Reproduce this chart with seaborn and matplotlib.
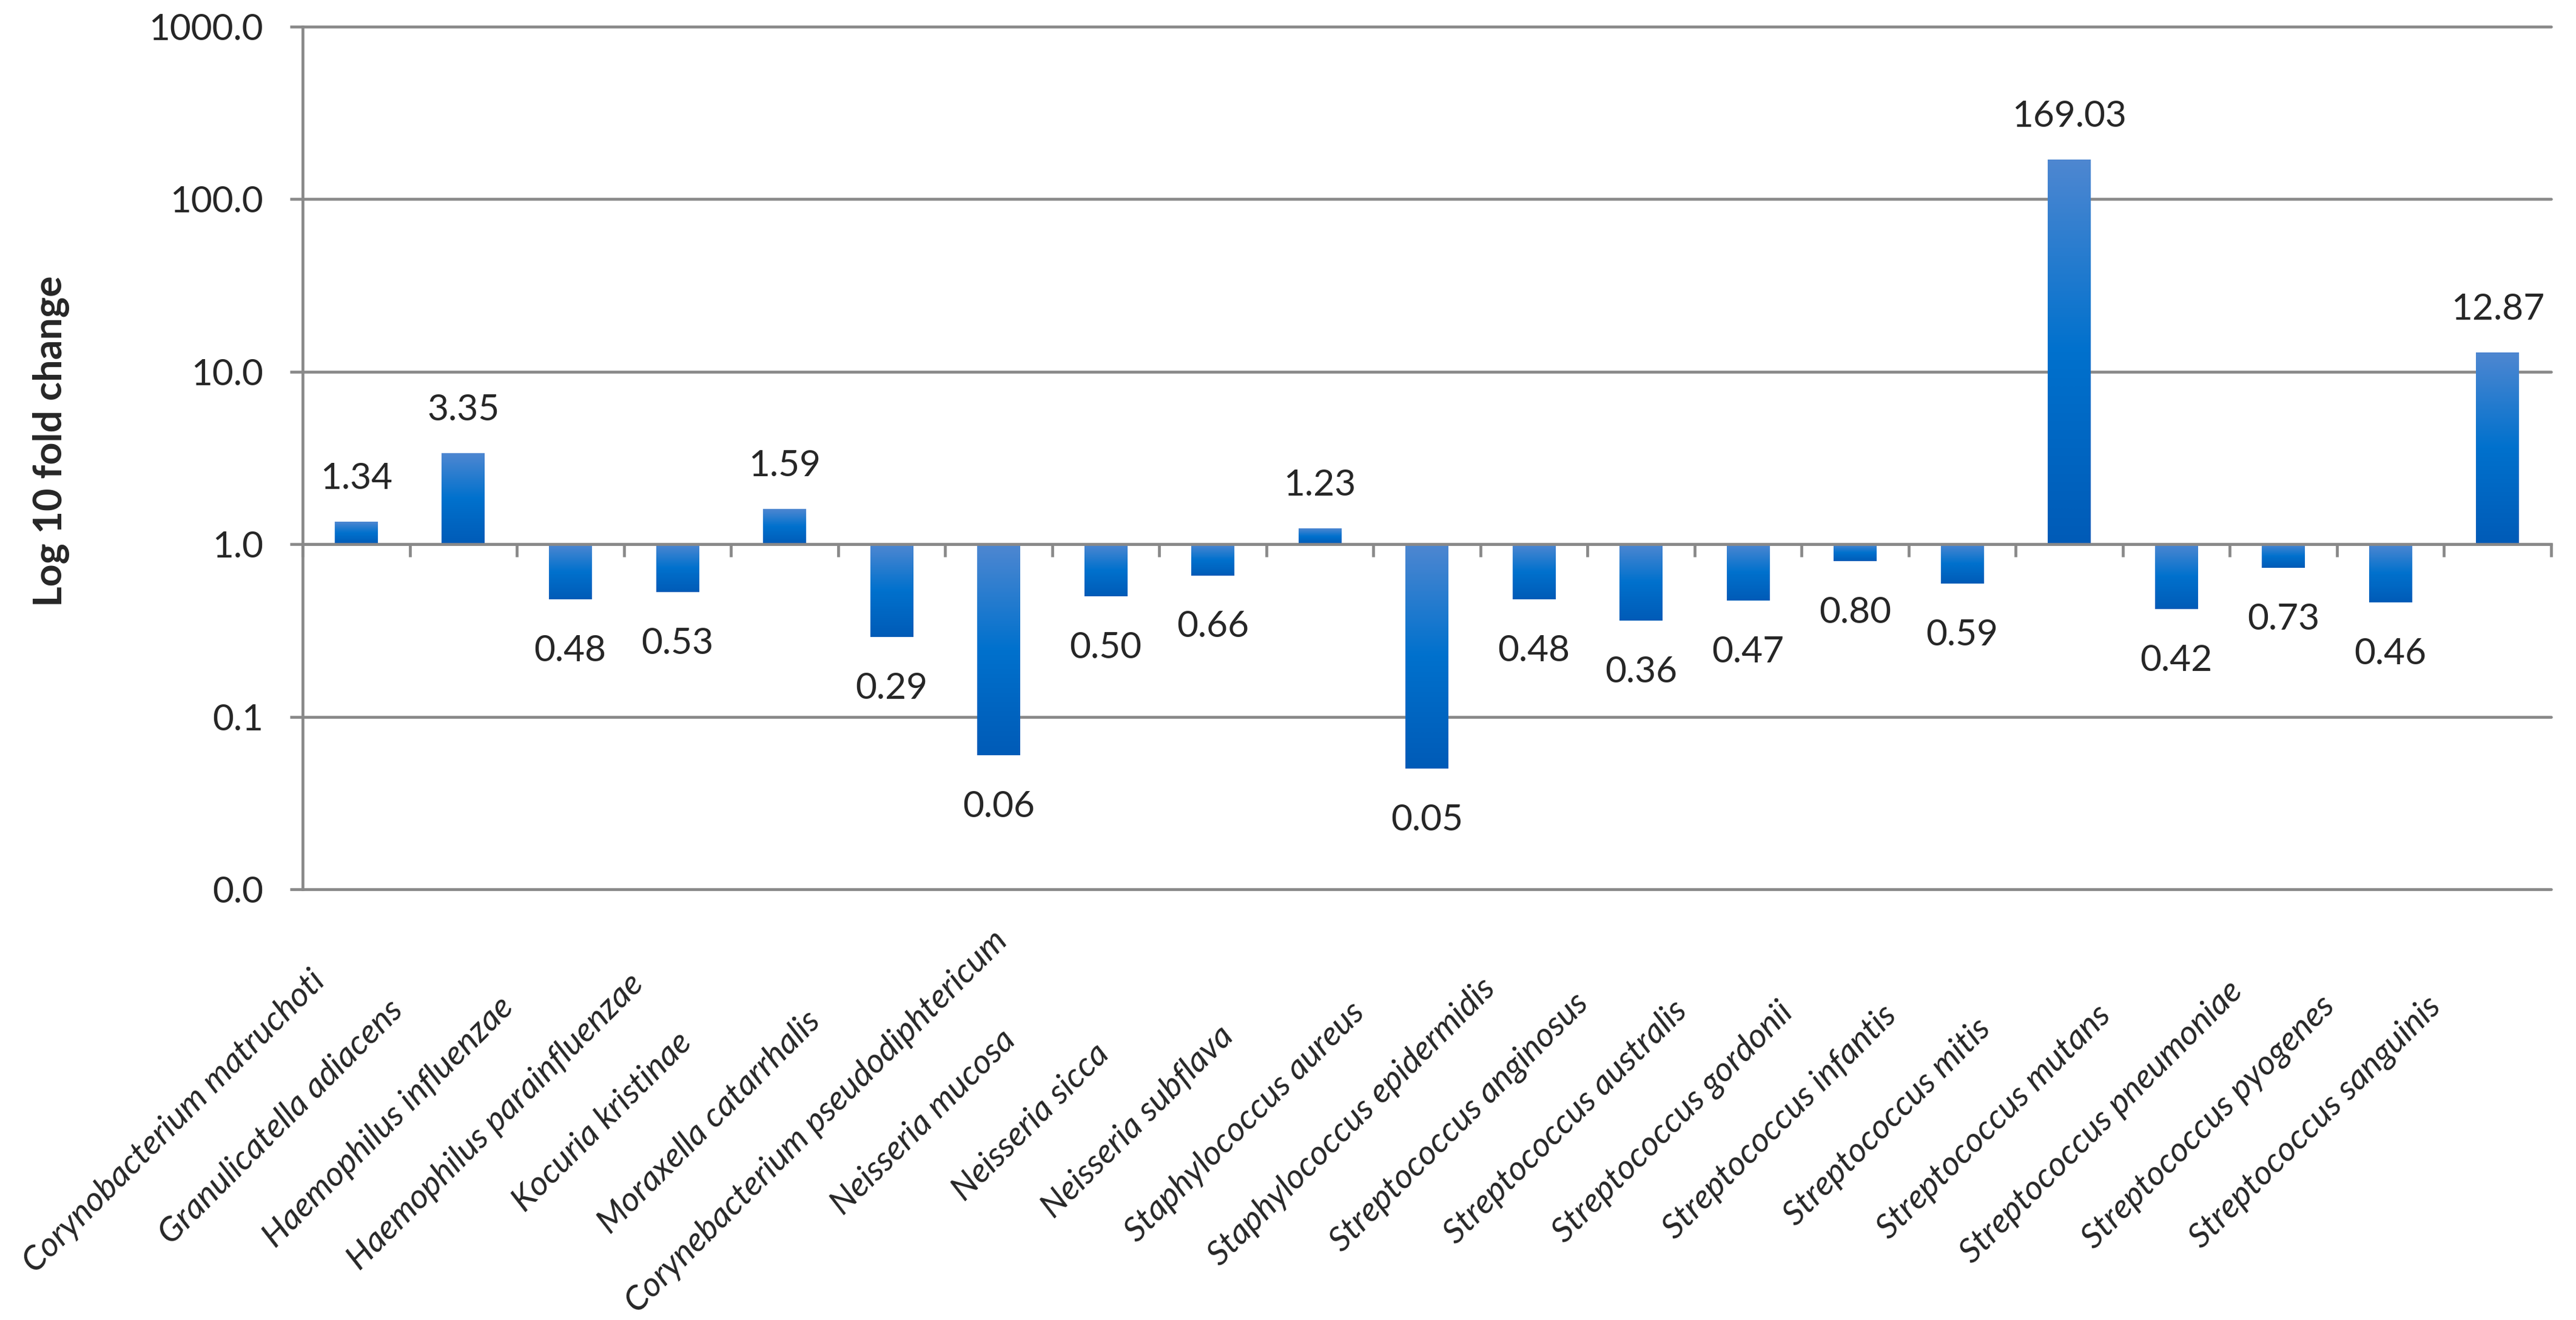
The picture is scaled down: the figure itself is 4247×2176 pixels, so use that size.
import numpy as np
import matplotlib
matplotlib.use("Agg")
import matplotlib.pyplot as plt
import seaborn as sns
from matplotlib.colors import LinearSegmentedColormap
from matplotlib.image import BboxImage
from matplotlib.transforms import TransformedBbox, blended_transform_factory, ScaledTranslation
from matplotlib.ticker import FixedLocator, FuncFormatter, NullLocator

species = [
    "Corynobacterium matruchoti", "Granulicatella adiacens", "Haemophilus influenzae",
    "Haemophilus parainfluenzae", "Kocuria kristinae", "Moraxella catarrhalis",
    "Corynebacterium pseudodiphtericum", "Neisseria mucosa", "Neisseria sicca",
    "Neisseria subflava", "Staphylococcus aureus", "Staphylococcus epidermidis",
    "Streptococcus anginosus", "Streptococcus australis", "Streptococcus gordonii",
    "Streptococcus infantis", "Streptococcus mitis", "Streptococcus mutans",
    "Streptococcus pneumoniae", "Streptococcus pyogenes", "Streptococcus sanguinis",
]
fold_change = [1.34, 3.35, 0.48, 0.53, 1.59, 0.29, 0.06, 0.50, 0.66, 1.23, 0.05,
               0.48, 0.36, 0.47, 0.80, 0.59, 169.03, 0.42, 0.73, 0.46, 12.87]
y_ticks = [0.01, 0.1, 1, 10, 100, 1000]

sns.set_style("white")
plt.rcParams['font.family'] = ['Lato', 'DejaVu Sans']

W, H, DPI = 4247, 2176, 300
fig = plt.figure(figsize=(W / DPI, H / DPI), dpi=DPI)
ax = fig.add_axes([499 / W, 1 - 1466 / H, (4206 - 499) / W, (1466 - 44) / H])

grey = '#898989'
ax.set_yscale('log')
sns.barplot(x=species, y=fold_change, color='#0070cc', width=0.4, ax=ax, zorder=1)

ax.set_xlim(-0.5, len(species) - 0.5)
ax.set_ylim(0.01, 1000)

# bars start at 1 (category axis crosses there); light-to-dark gradient top to bottom
cmap = LinearSegmentedColormap.from_list('bar', ['#4e87d1', '#0071cd', '#005bb7'])
grad = np.linspace(0, 1, 256).reshape(-1, 1)
for patch, v in zip(ax.patches, fold_change):
    patch.set_y(min(v, 1.0))
    patch.set_height(abs(v - 1.0))
    patch.set_linewidth(0)
    img = BboxImage(TransformedBbox(patch.get_bbox(), ax.transData), cmap=cmap,
                    interpolation='bilinear', zorder=1.2)
    img.set_data(grad)
    ax.add_artist(img)

# gridlines / axes
ax.yaxis.set_major_locator(FixedLocator(y_ticks))
ax.yaxis.set_minor_locator(NullLocator())
ax.yaxis.set_major_formatter(FuncFormatter(lambda v, p: f"{v:.1f}"))
ax.set_axisbelow(True)
ax.yaxis.grid(True, color=grey, linewidth=1.13)
ax.xaxis.grid(False)
for g in ax.yaxis.get_gridlines():
    g.set_clip_on(False)
for s in ['top', 'right']:
    ax.spines[s].set_visible(False)
ax.spines['left'].set_color(grey)
ax.spines['left'].set_linewidth(1.13)
ax.spines['bottom'].set_position(('data', 1))
ax.spines['bottom'].set_color(grey)
ax.spines['bottom'].set_linewidth(1.13)
ax.spines['bottom'].set_zorder(3)

ax.set_xticks(np.arange(len(species) + 1) - 0.5)
ax.set_xticklabels([])
ax.tick_params(axis='x', direction='out', length=5, width=1.13, color=grey, bottom=True)
ax.tick_params(axis='y', direction='out', length=5, width=1.13, color=grey,
               pad=10.6, labelsize=14.5, left=True)

# category labels, centred diagonally below the plot
tr = blended_transform_factory(ax.transData, fig.transFigure) + \
    ScaledTranslation(-1.0, 0, fig.dpi_scale_trans)
for i, name in enumerate(species):
    ax.text(i, 1 - 1850 / H, name, transform=tr, rotation=45, ha='center', va='center',
            style='italic', fontsize=13.5, clip_on=False)

# value labels
for i, v in enumerate(fold_change):
    if v >= 1:
        ax.annotate(f"{v:.2f}", xy=(i, v), xytext=(0, 13.2), textcoords='offset points',
                    ha='center', va='baseline', fontsize=14.5)
    else:
        ax.annotate(f"{v:.2f}", xy=(i, v), xytext=(0, -13.9), textcoords='offset points',
                    ha='center', va='top', fontsize=14.5)

ax.set_ylabel("Log 10 fold change", fontsize=15.5, fontweight='bold')
ax.yaxis.set_label_coords((85 - 499) / (4206 - 499), (1466 - 727) / 1422)
ax.yaxis.label.set_va('center')

fig.savefig("out.png", dpi=DPI)
